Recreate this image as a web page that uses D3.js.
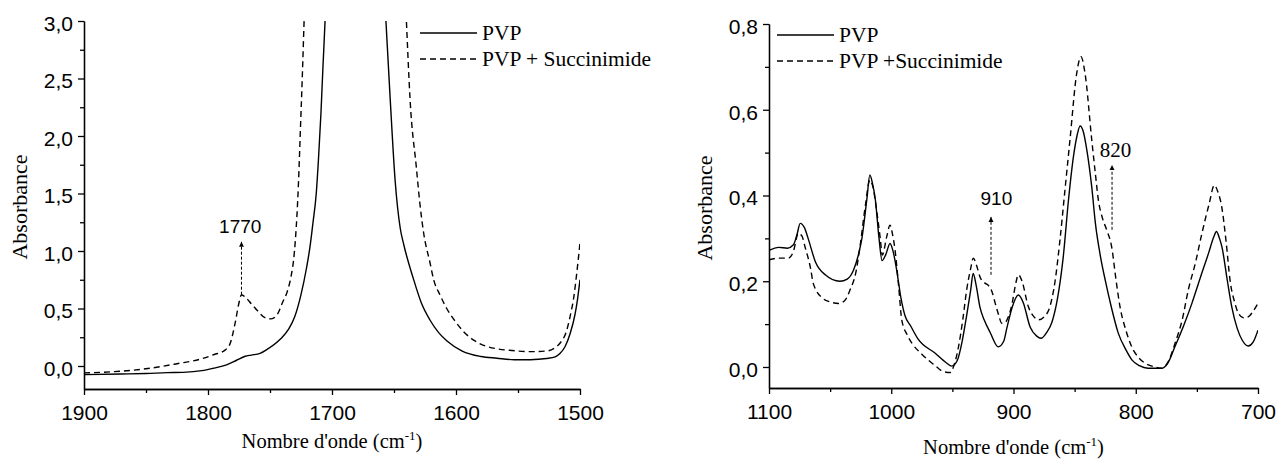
<!DOCTYPE html>
<html>
<head>
<meta charset="utf-8">
<script src="https://cdn.jsdelivr.net/npm/d3@7"></script>
<style>
  body { margin: 0; background: #fff; }
  svg { display: block; }
</style>
</head>
<body>
<svg id="chart" width="1278" height="459"></svg>
<script>
// ---- data : left panel (1900 - 1500 cm-1) ----
var pvpLeft = [
  [1900,-0.075],[1870,-0.07],[1850,-0.065],[1833,-0.058],[1820,-0.055],[1805,-0.04],[1796,-0.02],
  [1785,0.01],[1777,0.05],[1770,0.085],[1765,0.095],[1758,0.11],[1753,0.14],[1742,0.23],[1735,0.32],
  [1730,0.43],[1725,0.62],[1720.6,0.85],[1717.7,1.04],[1715.3,1.25],[1712.7,1.5],[1710.9,1.8],
  [1708.9,2.2],[1707.3,2.6],[1705.6,3.0],[1704,3.5],
  [1680,5.0],
  [1659,3.5],[1656.5,3.0],[1653,2.31],[1649,1.6],[1645,1.2],[1642,1.05],[1634.4,0.76],[1628,0.55],
  [1621,0.40],[1614,0.29],[1607.5,0.22],[1595,0.13],[1580,0.083],[1567,0.068],[1553,0.055],[1540,0.055],
  [1527,0.065],[1520,0.08],[1516,0.11],[1512,0.17],[1508,0.28],[1504,0.45],[1502,0.58],[1500,0.75]
];
var succLeft = [
  [1900,-0.06],[1870,-0.045],[1847,-0.02],[1825,0.02],[1806,0.06],[1795,0.1],[1786,0.14],[1782,0.2],
  [1778,0.38],[1775,0.55],[1773,0.62],[1770,0.6],[1765,0.54],[1760,0.48],[1754,0.42],[1749,0.41],
  [1744,0.45],[1740,0.55],[1736,0.65],[1733,0.78],[1731,0.92],[1729.5,1.1],[1727,1.6],[1725.5,2.05],
  [1724,2.5],[1722.5,3.0],[1721,3.5],
  [1680,5.5],
  [1642,3.5],[1640,3.0],[1637,2.31],[1632,1.73],[1629,1.4],[1626,1.15],[1621,0.9],[1618,0.75],
  [1613,0.62],[1607.5,0.5],[1600,0.38],[1594,0.3],[1585,0.22],[1575,0.17],[1567,0.15],[1555,0.135],
  [1540,0.125],[1527,0.13],[1520,0.16],[1516,0.2],[1511,0.3],[1508,0.43],[1505,0.6],[1502.7,0.8],[1500,1.07]
];

// ---- data : right panel (1100 - 700 cm-1) ----
var pvpRight = [
  [1100,0.272],[1092,0.279],[1085,0.277],[1080,0.285],[1077,0.31],[1074.5,0.335],[1071,0.325],[1068,0.3],
  [1062,0.245],[1054,0.215],[1042,0.2],[1036,0.205],[1031,0.225],[1027,0.26],[1024,0.3],[1020,0.39],
  [1017.5,0.448],[1015.5,0.43],[1013,0.39],[1010,0.3],[1007.5,0.248],[1004.5,0.262],[1001,0.288],
  [998.5,0.27],[995.5,0.225],[992,0.16],[988.8,0.12],[984,0.095],[978,0.065],[964,0.032],[955,0.01],
  [950.5,0.002],[946,0.015],[942,0.06],[938.5,0.117],[935,0.18],[933,0.218],[930.5,0.19],[927.5,0.14],
  [924,0.11],[919,0.08],[912.5,0.047],[908,0.06],[905.5,0.09],[901,0.14],[896,0.168],[892,0.15],
  [886.5,0.094],[881,0.072],[877.5,0.067],[873,0.08],[868.5,0.105],[864,0.16],[859.3,0.257],[855,0.39],
  [851,0.49],[848,0.54],[845.5,0.562],[843,0.55],[840,0.506],[836,0.42],[833,0.335],[829,0.26],
  [825,0.203],[820,0.14],[814.3,0.079],[808,0.04],[803,0.016],[797,0.003],[790,-0.003],[779,-0.003],
  [774,0.008],[768,0.047],[761,0.095],[754,0.149],[747,0.21],[740.5,0.265],[736,0.305],[734,0.316],
  [731.5,0.3],[729.5,0.28],[725,0.2],[721.5,0.141],[717,0.09],[713,0.063],[708,0.049],[704,0.058],[700,0.086]
];
var succRight = [
  [1100,0.25],[1092,0.254],[1084,0.254],[1080,0.27],[1076,0.312],[1073,0.305],[1070.5,0.28],[1066,0.23],
  [1063.8,0.195],[1056,0.16],[1050,0.152],[1043,0.148],[1038,0.155],[1033.7,0.18],[1029,0.22],
  [1025.6,0.28],[1021,0.38],[1017.5,0.436],[1015,0.42],[1012,0.366],[1009,0.3],[1007.3,0.261],
  [1003.7,0.304],[1001,0.331],[999,0.31],[996.9,0.273],[994,0.19],[991.4,0.11],[987,0.075],[983,0.055],
  [975,0.03],[969.7,0.016],[964,0.003],[958.7,-0.009],[952,-0.013],[948,0.01],[945,0.047],[941.5,0.11],
  [938.3,0.18],[935,0.23],[932.9,0.254],[930,0.235],[927.4,0.21],[923,0.195],[920.5,0.19],[917.5,0.175],
  [915,0.149],[912,0.12],[909.7,0.102],[906.5,0.105],[904.2,0.117],[901,0.15],[898.5,0.19],[896,0.215],
  [893,0.2],[887.9,0.141],[884,0.12],[879.7,0.11],[875,0.117],[870.2,0.141],[866,0.2],[862,0.296],
  [858,0.41],[853.8,0.53],[848.3,0.685],[844.8,0.724],[841.5,0.685],[836,0.53],[833,0.45],[830.6,0.39],
  [827,0.345],[823.8,0.32],[819.7,0.28],[816,0.2],[812.9,0.141],[808,0.085],[803.3,0.047],[797,0.02],
  [789.7,0.005],[784,0],[778.8,-0.003],[773,0.015],[767.9,0.055],[762,0.11],[757,0.18],[751,0.245],
  [746,0.31],[740,0.38],[735.7,0.424],[733,0.41],[729.7,0.374],[726,0.29],[722.9,0.203],[719,0.15],
  [716,0.125],[712,0.115],[708,0.117],[704,0.13],[700,0.149]
];

// ticks
var leftXTicks = [1900, 1800, 1700, 1600, 1500];
var leftXMinor = [1850, 1750, 1650, 1550];
var leftYTicks = [0, 0.5, 1.0, 1.5, 2.0, 2.5, 3.0];
var leftYMinor = [0.25, 0.75, 1.25, 1.75, 2.25, 2.75];
var rightXTicks = [1100, 1000, 900, 800, 700];
var rightXMinor = [1050, 950, 850, 750];
var rightYTicks = [0, 0.2, 0.4, 0.6, 0.8];
var rightYMinor = [0.1, 0.3, 0.5, 0.7];

// legends + annotations
var legendLeft = ["PVP", "PVP + Succinimide"];
var legendRight = ["PVP", "PVP +Succinimide"];
var annLeft = [{label: "1770", w: 1773, from: 0.62, to: 1.08, lw: 1774, la: 1.16, serif: false}];
var annRight = [
  {label: "910", w: 918.4, from: 0.215, to: 0.35, lw: 914, la: 0.378, serif: false},
  {label: "820", w: 819.4, from: 0.32, to: 0.471, lw: 816.5, la: 0.49, serif: true}
];

var SANS = "'Liberation Sans', Arial, sans-serif";
var SERIF = "'Liberation Serif', 'Times New Roman', serif";

var svg = d3.select("#chart");
var defs = svg.append("defs");
defs.append("marker").attr("id", "arr")
  .attr("viewBox", "0 0 10 10").attr("refX", 10).attr("refY", 5)
  .attr("markerWidth", 5).attr("markerHeight", 7).attr("orient", "auto")
  .attr("markerUnits", "userSpaceOnUse")
  .append("path").attr("d", "M0,0 L10,5 L0,10 z").attr("fill", "#000");

var fmt = function(d) { return d3.format(".1f")(d).replace(".", ","); };

function panel(cfg) {
  var x = d3.scaleLinear().domain(cfg.xDomain).range([cfg.left, cfg.right]);
  var y = d3.scaleLinear().domain(cfg.yDomain).range([cfg.bottom, cfg.top]);
  var g = svg.append("g");

  defs.append("clipPath").attr("id", cfg.id)
    .append("rect").attr("x", cfg.left).attr("y", cfg.top)
    .attr("width", cfg.right - cfg.left).attr("height", cfg.bottom - cfg.top);

  var line = d3.line().x(d => x(d[0])).y(d => y(d[1])).curve(d3.curveMonotoneX);
  var plot = g.append("g").attr("clip-path", "url(#" + cfg.id + ")");
  plot.append("path").datum(cfg.solid).attr("d", line)
    .attr("fill", "none").attr("stroke", "#000").attr("stroke-width", 1.4);
  plot.append("path").datum(cfg.dashed).attr("d", line)
    .attr("fill", "none").attr("stroke", "#000").attr("stroke-width", 1.4)
    .attr("stroke-dasharray", "6,4");

  // axes
  var xa = g.append("g").attr("transform", "translate(0," + cfg.bottom + ")")
    .call(d3.axisBottom(x).tickValues(cfg.xTicks).tickSize(6).tickSizeOuter(0).tickPadding(10).tickFormat(d3.format("d")));
  g.append("g").attr("transform", "translate(0," + cfg.bottom + ")")
    .call(d3.axisBottom(x).tickValues(cfg.xMinor).tickSize(4).tickSizeOuter(0).tickFormat(""));
  var ya = g.append("g").attr("transform", "translate(" + cfg.left + ",0)")
    .call(d3.axisLeft(y).tickValues(cfg.yTicks).tickSize(6).tickSizeOuter(0).tickPadding(5).tickFormat(fmt));
  g.append("g").attr("transform", "translate(" + cfg.left + ",0)")
    .call(d3.axisLeft(y).tickValues(cfg.yMinor).tickSize(4).tickSizeOuter(0).tickFormat(""));
  g.selectAll(".domain, .tick line").attr("stroke", "#000").attr("stroke-width", 1.3);
  g.selectAll(".tick text").style("font-family", SANS).style("font-size", "21px").attr("fill", "#000");
  xa.selectAll(".tick text").attr("dy", "0.7em");
  ya.selectAll(".tick text").attr("dy", "0.45em");

  // axis titles
  g.append("text")
    .attr("transform", "translate(" + cfg.yTitleX + "," + ((cfg.top + cfg.bottom) / 2 + 2) + ") rotate(-90)")
    .attr("text-anchor", "middle").style("font-family", SERIF).style("font-size", "22px").text("Absorbance");
  var xt = g.append("text")
    .attr("x", (cfg.left + cfg.right) / 2).attr("y", cfg.xTitleY)
    .attr("text-anchor", "middle").style("font-family", SERIF).style("font-size", "20.5px");
  xt.append("tspan").text("Nombre d'onde (cm");
  xt.append("tspan").attr("dy", -8).style("font-size", "13px").text("-1");
  xt.append("tspan").attr("dy", 8).text(")");

  // legend
  cfg.legend.forEach(function(t, i) {
    var ly = cfg.legY + i * 26;
    g.append("line").attr("x1", cfg.legX).attr("x2", cfg.legX + 57)
      .attr("y1", ly).attr("y2", ly).attr("stroke", "#000").attr("stroke-width", 1.4)
      .attr("stroke-dasharray", i ? "6,4" : null);
    g.append("text").attr("x", cfg.legX + 62).attr("y", ly + 7)
      .style("font-family", SERIF).style("font-size", "21.5px").text(t);
  });

  // annotations
  cfg.ann.forEach(function(a) {
    g.append("line").attr("x1", x(a.w)).attr("x2", x(a.w))
      .attr("y1", y(a.from)).attr("y2", y(a.to))
      .attr("stroke", "#000").attr("stroke-width", 1).attr("stroke-dasharray", "3,2")
      .attr("marker-end", "url(#arr)");
    g.append("text").attr("x", x(a.lw)).attr("y", y(a.la)).attr("text-anchor", "middle")
      .style("font-family", a.serif ? SERIF : SANS)
      .style("font-size", a.serif ? "21px" : "19px").text(a.label);
  });
}

panel({
  id: "clipL", left: 84, right: 580, top: 21, bottom: 389,
  xDomain: [1900, 1500], yDomain: [-0.2, 3.0],
  solid: pvpLeft, dashed: succLeft,
  xTicks: leftXTicks, xMinor: leftXMinor, yTicks: leftYTicks, yMinor: leftYMinor,
  yTitleX: 27, xTitleY: 448, legX: 420, legY: 33, legend: legendLeft, ann: annLeft
});

panel({
  id: "clipR", left: 769, right: 1258, top: 24, bottom: 388,
  xDomain: [1100, 700], yDomain: [-0.049, 0.8],
  solid: pvpRight, dashed: succRight,
  xTicks: rightXTicks, xMinor: rightXMinor, yTicks: rightYTicks, yMinor: rightYMinor,
  yTitleX: 712, xTitleY: 454, legX: 777, legY: 35, legend: legendRight, ann: annRight
});
</script>
</body>
</html>
